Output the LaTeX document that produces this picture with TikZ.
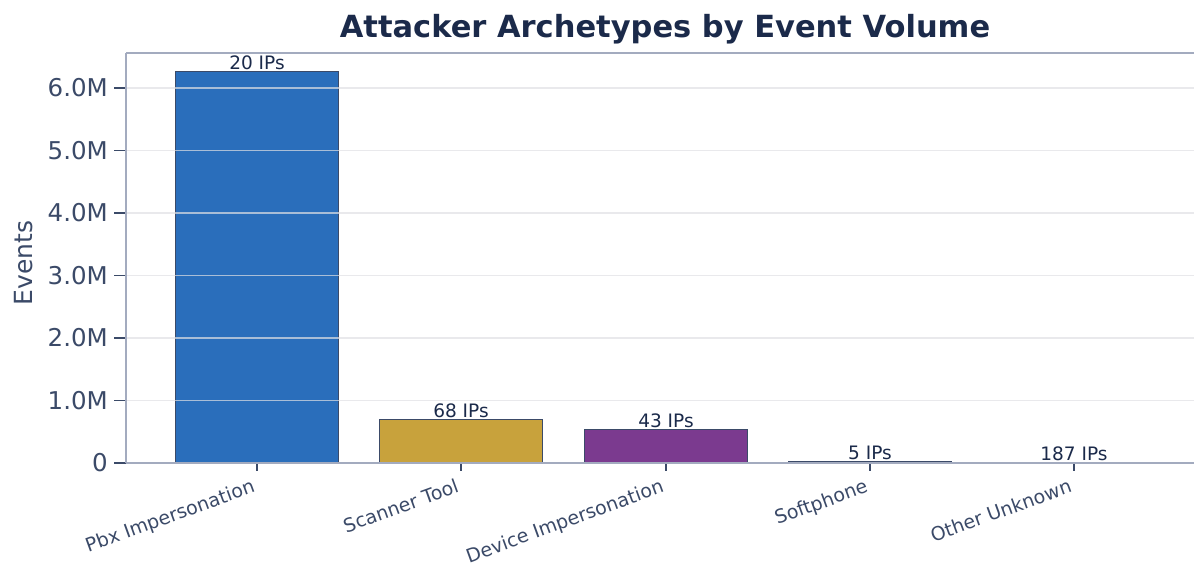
\documentclass[tikz,border=0pt]{standalone}
\usepackage{fontspec}
\setmainfont{DejaVu Sans}
\usetikzlibrary{positioning}

\definecolor{navy}{HTML}{1B2A4A}
\definecolor{slate}{HTML}{3B4A68}
\definecolor{spinec}{HTML}{A3ABBF}
\definecolor{gridc}{HTML}{E0E0E4}
\definecolor{pbx}{HTML}{2A6EBB}
\definecolor{scan}{HTML}{C8A23C}
\definecolor{dev}{HTML}{7B3A8F}
\definecolor{soft}{HTML}{4A5A7A}
\definecolor{other}{HTML}{8C97AD}

\begin{document}
\begin{tikzpicture}[x=1pt, y=1pt,
    bar/.style={draw=slate, line width=0.9pt},
    cnt/.style={anchor=south, font=\fontsize{18.5}{18.5}\selectfont, text=navy, inner sep=1.5pt},
    ytick/.style={anchor=east, font=\fontsize{24.5}{24.5}\selectfont, text=slate, inner sep=0pt},
    cat/.style={anchor=north east, rotate=20, font=\fontsize{19}{19}\selectfont, text=slate, inner sep=0pt},
    spine/.style={draw=spinec, line width=1.6pt},
    tickmark/.style={draw=slate, line width=1.2pt}
  ]
  \useasboundingbox (0,0) rectangle (1194,565);

  % bars: centre / value in millions / colour / IPs / category
  \foreach \cx/\val/\col/\ips/\lbl [count=\i] in {
      257/6.26/pbx/20/Pbx Impersonation,
      461/0.70/scan/68/Scanner Tool,
      666/0.54/dev/43/Device Impersonation,
      870/0.03/soft/5/Softphone,
      1074/0.01/other/187/Other Unknown} {
    \pgfmathsetmacro{\top}{102+62.5*\val}
    \filldraw[bar, fill=\col] (\cx-81.5,102) rectangle (\cx+81.5,\top);
    \node[cnt] (cnt\i) at (\cx,\top) {\ips\ IPs};
    \draw[tickmark] (\cx,102) -- (\cx,94);
    \node[cat] (cat\i) at (\cx-6,87) {\lbl};
  }

  % grid over the bars
  \foreach \v in {1,...,6}
    \draw[gridc, line width=1.8pt, opacity=0.7] (126,102+62.5*\v) -- (1194,102+62.5*\v);

  % y ticks
  \foreach \v/\t in {0/0, 1/1.0M, 2/2.0M, 3/3.0M, 4/4.0M, 5/5.0M, 6/6.0M} {
    \draw[tickmark] (114,102+62.5*\v) -- (126,102+62.5*\v);
    \node[ytick] (yt\v) at (108,102+62.5*\v) {\t};
  }

  % spines
  \draw[spine] (126,102) -- (126,512);
  \draw[spine] (126,512) -- (1194,512);
  \draw[spine] (126,102) -- (1194,102);

  \node[rotate=90, font=\fontsize{25}{25}\selectfont, text=slate] (ylab) at (24,302) {Events};
  \node[font=\fontsize{30.5}{30.5}\selectfont\bfseries, text=navy] (title) at (665,536) {Attacker Archetypes by Event Volume};
\end{tikzpicture}
\end{document}
